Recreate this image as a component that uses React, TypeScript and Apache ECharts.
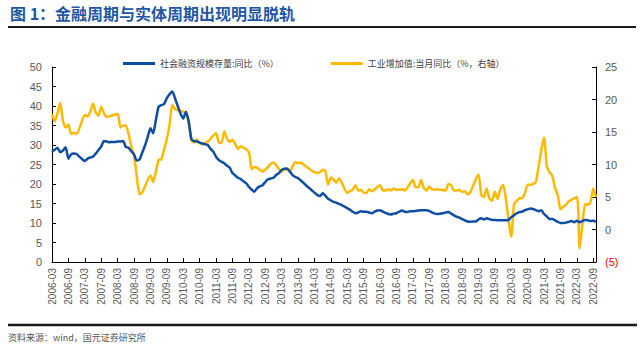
import React, { useEffect, useRef } from "react";
import * as echarts from "echarts";

// Monthly categories 2006-03 .. 2022-10
const startYear = 2006;
const startMonth = 3;
const endYear = 2022;
const endMonth = 10;
const months: string[] = [];
for (let y = startYear; y <= endYear; y++) {
  for (let m = 1; m <= 12; m++) {
    if (y === startYear && m < startMonth) continue;
    if (y === endYear && m > endMonth) continue;
    months.push(`${y}-${String(m).padStart(2, "0")}`);
  }
}

// 社会融资规模存量:同比（%） — left axis
const tsfYoY: number[] = [
  // 2006 Mar-Dec
  28.3, 28.8, 29.3, 28.2, 28.6, 29.4, 26.5, 27.6, 27.8, 27.7,
  // 2007
  27.0, 26.4, 25.9, 26.5, 26.8, 27.0, 27.8, 28.7, 29.6, 31.0, 30.9, 30.7,
  // 2008
  30.8, 30.8, 30.9, 30.9, 31.0, 29.5, 29.3, 28.4, 27.6, 26.0, 26.3, 28.0,
  // 2009
  29.8, 32.0, 34.3, 33.0, 36.4, 39.8, 40.2, 40.5, 42.0, 43.0, 43.7, 42.0,
  // 2010
  40.0, 38.1, 36.8, 38.5, 36.0, 31.5, 31.0, 30.9, 30.6, 30.4, 30.2, 30.0,
  // 2011
  29.0, 28.3, 27.0, 26.2, 25.7, 25.3, 24.7, 24.2, 22.8, 22.2, 21.6, 21.3,
  // 2012
  20.7, 20.2, 19.3, 18.6, 18.0, 18.9, 19.4, 19.7, 20.5, 21.2, 21.4, 21.6,
  // 2013
  22.3, 22.8, 23.6, 23.9, 24.0, 23.2, 22.3, 21.8, 21.5, 20.9, 20.3, 19.6,
  // 2014
  19.0, 18.4, 17.8, 17.2, 16.9, 17.6, 17.0, 16.2, 15.8, 15.4, 15.2, 14.9,
  // 2015
  14.6, 14.2, 13.8, 13.4, 12.9, 12.5, 12.7, 13.0, 12.9, 12.9, 12.7, 12.5,
  // 2016
  12.9, 13.2, 13.3, 12.9, 12.6, 12.3, 12.2, 12.4, 12.5, 12.9, 13.2, 12.9,
  // 2017
  12.8, 13.0, 13.0, 13.1, 13.2, 13.3, 13.3, 13.3, 13.1, 12.7, 12.4, 12.3,
  // 2018
  12.4, 12.5, 12.7, 12.8, 12.4, 12.0, 11.6, 11.4, 11.0, 10.7, 10.4, 10.3,
  // 2019
  10.4, 10.4, 10.9, 11.2, 10.9, 11.2, 11.0, 10.8, 10.8, 10.7, 10.7, 10.7,
  // 2020
  10.7, 10.8, 11.5, 12.0, 12.5, 12.8, 12.9, 13.3, 13.5, 13.7, 13.6, 13.3,
  // 2021
  13.0, 13.3, 12.3, 11.7, 11.0, 11.0, 10.7, 10.3, 10.0, 10.0, 10.1, 10.3,
  // 2022 Jan-Oct
  10.5, 10.2, 10.6, 10.2, 10.5, 10.8, 10.7, 10.5, 10.6, 10.3,
];

// 工业增加值:当月同比（%，右轴） — right axis (Jan/Feb not published)
const ivaYoY: (number | null)[] = [
  // 2006 Mar-Dec
  17.8, 16.6, 17.9, 19.5, 16.7, 15.7, 16.1, 14.7, 14.9, 14.7,
  // 2007
  null, null, 17.6, 17.4, 18.1, 19.4, 18.0, 17.5, 18.9, 17.9, 17.3, 17.4,
  // 2008
  null, null, 17.8, 15.7, 16.0, 16.0, 14.7, 12.8, 11.4, 8.2, 5.4, 5.7,
  // 2009
  null, null, 8.3, 7.3, 8.9, 10.7, 10.8, 12.3, 13.9, 16.1, 19.2, 18.5,
  // 2010
  null, null, 18.1, 17.8, 16.5, 13.7, 13.4, 13.9, 13.3, 13.1, 13.3, 13.5,
  // 2011
  null, null, 14.8, 13.4, 13.3, 15.1, 14.0, 13.5, 13.8, 13.2, 12.4, 12.8,
  // 2012
  null, null, 11.9, 9.3, 9.6, 9.5, 9.2, 8.9, 9.2, 9.6, 10.1, 10.3,
  // 2013
  null, null, 8.9, 9.3, 9.2, 8.9, 9.7, 10.4, 10.2, 10.3, 10.0, 9.7,
  // 2014
  null, null, 8.8, 8.7, 8.8, 9.2, 9.0, 6.9, 8.0, 7.7, 7.2, 7.9,
  // 2015
  null, null, 5.6, 5.9, 6.1, 6.8, 6.0, 6.1, 5.7, 5.6, 6.2, 5.9,
  // 2016
  null, null, 6.8, 6.0, 6.0, 6.2, 6.0, 6.3, 6.1, 6.1, 6.2, 6.0,
  // 2017
  null, null, 7.6, 6.5, 6.5, 7.6, 6.4, 6.0, 6.6, 6.2, 6.1, 6.2,
  // 2018
  null, null, 6.0, 7.0, 6.8, 6.0, 6.0, 6.1, 5.8, 5.9, 5.4, 5.7,
  // 2019
  null, null, 8.5, 5.4, 5.0, 6.3, 4.8, 4.4, 5.8, 4.7, 6.2, 6.9,
  // 2020
  null, null, -1.1, 3.9, 4.4, 4.8, 4.8, 5.6, 6.9, 6.9, 7.0, 7.3,
  // 2021
  null, null, 14.1, 9.8, 8.8, 8.3, 6.4, 5.3, 3.1, 3.5, 3.8, 4.3,
  // 2022 Jan-Oct
  null, null, 5.0, -2.9, 0.7, 3.9, 3.8, 4.2, 6.3, 5.0,
];

const seriesNames = ["社会融资规模存量:同比（%）", "工业增加值:当月同比（%，右轴）"];
const titleText = "图 1：金融周期与实体周期出现明显脱轨";
const sourceText = "资料来源：wind，国元证券研究所";

const leftAxis = { min: 0, max: 50, interval: 5 };
const rightAxis = { min: -5, max: 25, interval: 5 };

const BLUE = "#0E4DA4";
const YELLOW = "#FFB900";
const LABEL = "#595959";
const FONT = "'Liberation Sans', Arial, 'Noto Sans CJK SC', sans-serif";
const CJK = "'Noto Sans CJK SC', sans-serif";

export default function App() {
  const ref = useRef<HTMLDivElement>(null);
  useEffect(() => {
    if (!ref.current) return;
    const chart = echarts.init(ref.current, undefined, { renderer: "svg" });
    chart.setOption({
      animation: false,
      backgroundColor: "#ffffff",
      grid: { left: 52, right: 47, top: 67, bottom: 92, containLabel: false },
      legend: {
        left: 118,
        top: 54,
        itemWidth: 32,
        itemHeight: 3,
        itemGap: 52,
        icon: "rect",
        textStyle: { fontSize: 9, color: "#404040", fontFamily: CJK },
        data: seriesNames,
      },
      xAxis: {
        type: "category",
        data: months,
        boundaryGap: false,
        axisLine: { show: true, lineStyle: { color: "#000", width: 1 } },
        axisTick: { show: true, inside: true, length: 4, interval: 5, lineStyle: { color: "#000" } },
        axisLabel: {
          interval: 5,
          rotate: 90,
          fontSize: 10,
          color: LABEL,
          fontFamily: FONT,
          margin: 6,
        },
        splitLine: { show: false },
      },
      yAxis: [
        {
          type: "value",
          ...leftAxis,
          axisLine: { show: true, lineStyle: { color: "#000", width: 1 } },
          axisTick: { show: true, inside: true, length: 4, lineStyle: { color: "#000" } },
          axisLabel: { fontSize: 11, color: LABEL, fontFamily: FONT, margin: 10 },
          splitLine: { show: false },
        },
        {
          type: "value",
          position: "right",
          ...rightAxis,
          axisLine: { show: true, lineStyle: { color: "#000", width: 1 } },
          axisTick: { show: true, inside: true, length: 4, lineStyle: { color: "#000" } },
          axisLabel: {
            fontSize: 11,
            color: LABEL,
            fontFamily: FONT,
            margin: 9,
            formatter: (v: number) => (v < 0 ? `{neg|(${Math.abs(v)})}` : `${v}`),
            rich: { neg: { color: "#FF0000", fontSize: 11, fontFamily: FONT } },
          },
          splitLine: { show: false },
        },
      ],
      series: [
        {
          name: seriesNames[0],
          type: "line",
          yAxisIndex: 0,
          data: tsfYoY,
          symbol: "none",
          smooth: 0.2,
          lineStyle: { color: BLUE, width: 2.5 },
          itemStyle: { color: BLUE },
          z: 3,
        },
        {
          name: seriesNames[1],
          type: "line",
          yAxisIndex: 1,
          data: ivaYoY,
          connectNulls: true,
          symbol: "none",
          smooth: 0.2,
          lineStyle: { color: YELLOW, width: 2.5 },
          itemStyle: { color: YELLOW },
          z: 2,
        },
      ],
      graphic: [
        {
          type: "text",
          left: 10,
          top: 5,
          style: {
            text: titleText,
            fontSize: 16,
            fontWeight: "bold",
            fill: "#2356A4",
            fontFamily: CJK,
          },
        },
        {
          type: "line",
          shape: { x1: 8, y1: 27, x2: 636, y2: 27 },
          style: { stroke: "#1a1a1a", lineWidth: 2 },
        },
        {
          type: "line",
          shape: { x1: 8, y1: 325, x2: 637, y2: 325 },
          style: { stroke: "#1a1a1a", lineWidth: 2.5 },
        },
        {
          type: "text",
          left: 8,
          top: 333,
          style: { text: sourceText, fontSize: 9, fill: "#555555", fontFamily: CJK },
        },
      ],
    });
    return () => chart.dispose();
  }, []);
  return (
    <div
      ref={ref}
      style={{ position: "fixed", left: 0, top: 0, width: 643, height: 354, background: "#fff" }}
    />
  );
}
